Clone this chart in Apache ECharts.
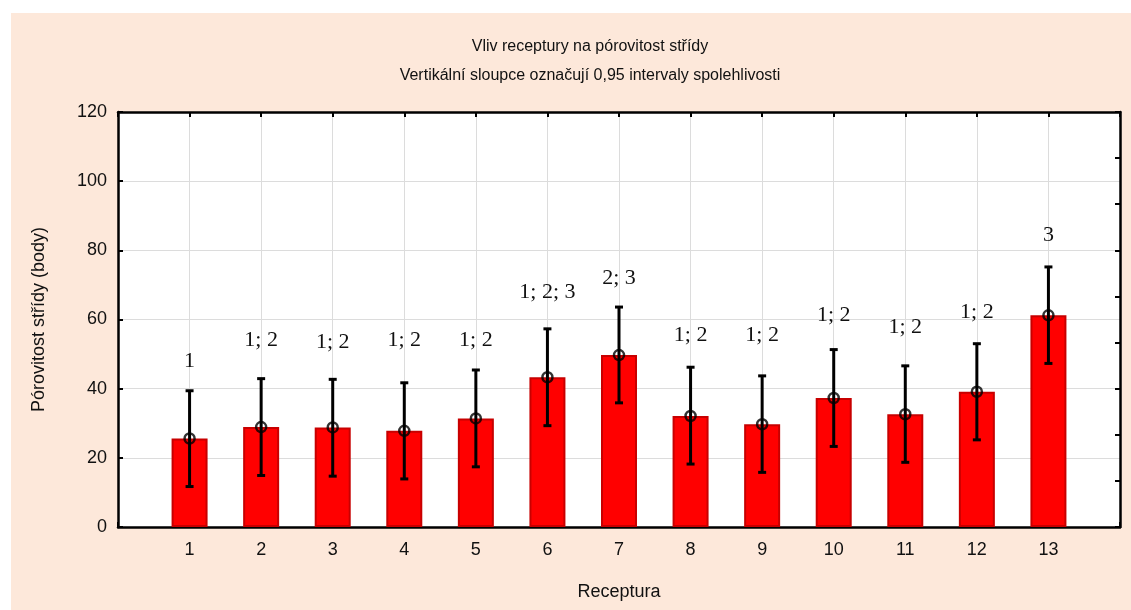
<!DOCTYPE html>
<html>
<head>
<meta charset="utf-8">
<script src="https://cdn.jsdelivr.net/npm/echarts@6/dist/echarts.min.js"></script>
<style>
  html, body { margin: 0; padding: 0; background: #ffffff; }
  #panel { position: absolute; left: 11px; top: 13px; right: 0; bottom: 0; background: #fde8da; }
  #chart { position: absolute; left: 0; top: 0; width: 1131px; height: 610px; }
</style>
</head>
<body>
<div id="panel"></div>
<div id="chart"></div>
<script>
// Recipe numbers along the x axis
const recipes = [1, 2, 3, 4, 5, 6, 7, 8, 9, 10, 11, 12, 13];
// Mean porosity score per recipe
const means = [25.6, 28.9, 28.8, 27.8, 31.4, 43.3, 49.7, 32.1, 29.7, 37.3, 32.6, 39.1, 61.2];
// 0.95 confidence interval bounds
const lower = [11.7, 14.9, 14.7, 13.9, 17.4, 29.3, 35.9, 18.2, 15.8, 23.3, 18.7, 25.2, 47.3];
const upper = [39.4, 42.9, 42.7, 41.7, 45.4, 57.3, 63.6, 46.2, 43.7, 51.3, 46.6, 53.0, 75.2];
// Homogeneous group letters and the value height they are written at
const groups = ['1', '1; 2', '1; 2', '1; 2', '1; 2', '1; 2; 3', '2; 3', '1; 2', '1; 2', '1; 2', '1; 2', '1; 2', '3'];
const groupAt = [47.8, 53.9, 53.4, 54.1, 53.9, 68.0, 71.9, 55.5, 55.5, 61.2, 57.9, 62.1, 84.4];
// Y axis ticks
const yTicks = [0, 20, 40, 60, 80, 100, 120];

const chart = echarts.init(document.getElementById('chart'), null, { renderer: 'canvas' });

const sans = 'Liberation Sans, Arial, sans-serif';
const serif = 'Liberation Serif, Times New Roman, serif';

const barData = recipes.map((r, i) => [r, means[i]]);
const errData = recipes.map((r, i) => [r, lower[i], upper[i]]);
const labelData = recipes.map((r, i) => [r, groupAt[i], groups[i]]);

chart.setOption({
  backgroundColor: 'transparent',
  animation: false,
  title: [
    { text: 'Vliv receptury na pórovitost střídy', left: 585, top: 34, textAlign: 'center',
      textStyle: { fontFamily: sans, fontSize: 16, fontWeight: 'normal', color: '#111' } },
    { text: 'Vertikální sloupce označují 0,95 intervaly spolehlivosti', left: 585, top: 63, textAlign: 'center',
      textStyle: { fontFamily: sans, fontSize: 16, fontWeight: 'normal', color: '#111' } }
  ],
  grid: { left: 118, right: 11, top: 112, bottom: 83, backgroundColor: '#ffffff', show: true, borderWidth: 0 },
  xAxis: [
    {
      type: 'value', min: 0, max: 14, interval: 1,
      name: 'Receptura', nameLocation: 'middle', nameGap: 56,
      nameTextStyle: { fontFamily: sans, fontSize: 18, color: '#111' },
      axisLine: { show: true, onZero: false, lineStyle: { color: '#000', width: 2.5 } },
      axisTick: { show: true, inside: true, length: 5, lineStyle: { color: '#000', width: 2 } },
      axisLabel: { fontFamily: sans, fontSize: 18, color: '#111', margin: 14,
        formatter: v => (v >= 1 && v <= 13 ? String(v) : '') },
      splitLine: { show: true, lineStyle: { color: '#dcdcdc', width: 1 } }
    },
    {
      type: 'value', min: 0, max: 14, interval: 1, position: 'top',
      axisLine: { show: true, onZero: false, lineStyle: { color: '#000', width: 2.5 } },
      axisTick: { show: true, inside: true, length: 5, lineStyle: { color: '#000', width: 2 } },
      axisLabel: { show: false }, splitLine: { show: false }
    }
  ],
  yAxis: [
    {
      type: 'value', min: 0, max: 120, interval: 20,
      name: 'Pórovitost střídy (body)', nameLocation: 'middle', nameGap: 70, nameRotate: 90,
      nameTextStyle: { fontFamily: sans, fontSize: 18, color: '#111' },
      axisLine: { show: true, onZero: false, lineStyle: { color: '#000', width: 2.5 } },
      axisTick: { show: true, inside: true, length: 5, lineStyle: { color: '#000', width: 2 } },
      axisLabel: { fontFamily: sans, fontSize: 18, color: '#111', margin: 11,
        formatter: v => (yTicks.includes(v) ? String(v) : '') },
      splitLine: { show: true, lineStyle: { color: '#dcdcdc', width: 1 } }
    },
    {
      type: 'value', min: 0, max: 120, interval: 120 / 9, position: 'right',
      axisLine: { show: true, onZero: false, lineStyle: { color: '#000', width: 2.5 } },
      axisTick: { show: true, inside: true, length: 5, lineStyle: { color: '#000', width: 2 } },
      axisLabel: { show: false }, splitLine: { show: false }
    }
  ],
  series: [
    {
      type: 'bar', data: barData, barWidth: 36, z: 2,
      itemStyle: { color: '#ff0000', borderColor: '#c80000', borderWidth: 2 }
    },
    {
      type: 'custom', data: errData, z: 5,
      renderItem: (params, api) => {
        const x = api.value(0);
        const lo = api.coord([x, api.value(1)]);
        const hi = api.coord([x, api.value(2)]);
        const cap = 4;
        const style = { stroke: '#000', lineWidth: 3, fill: null };
        return {
          type: 'group',
          children: [
            { type: 'line', shape: { x1: lo[0], y1: lo[1], x2: hi[0], y2: hi[1] }, style },
            { type: 'line', shape: { x1: hi[0] - cap, y1: hi[1], x2: hi[0] + cap, y2: hi[1] }, style },
            { type: 'line', shape: { x1: lo[0] - cap, y1: lo[1], x2: lo[0] + cap, y2: lo[1] }, style }
          ]
        };
      }
    },
    {
      type: 'scatter', data: barData, z: 6, symbol: 'circle', symbolSize: 10,
      itemStyle: { color: 'rgba(0,0,0,0)', borderColor: '#000', borderWidth: 2.5 }
    },
    {
      type: 'custom', data: labelData, z: 7,
      renderItem: (params, api) => {
        const p = api.coord([api.value(0), api.value(1)]);
        return {
          type: 'text',
          style: {
            x: p[0], y: p[1], text: groups[params.dataIndex],
            align: 'center', verticalAlign: 'middle',
            font: '22px ' + serif, fill: '#111'
          }
        };
      }
    }
  ]
});
</script>
</body>
</html>
